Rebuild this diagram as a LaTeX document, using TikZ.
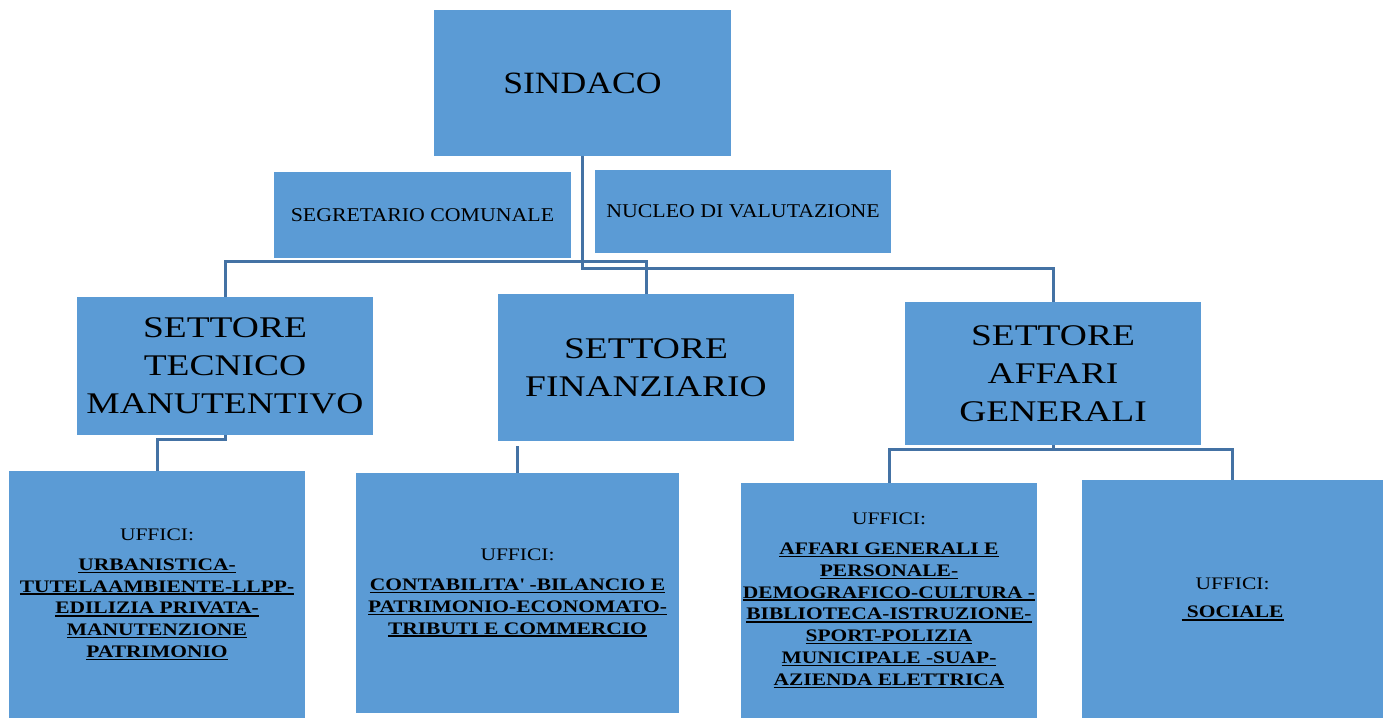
\documentclass[tikz,border=0pt]{standalone}
\usepackage{fontspec}
\setmainfont{Liberation Serif}
\newfontfamily\sindfont[FakeStretch=1.15]{Liberation Serif}
\newfontfamily\setfont[FakeStretch=1.25]{Liberation Serif}
\newfontfamily\smfont[FakeStretch=1.12]{Liberation Serif}
\newfontfamily\uffont[FakeStretch=1.22]{Liberation Serif}
\definecolor{boxblue}{RGB}{91,155,213}
\definecolor{lineblue}{RGB}{68,114,164}
\newcommand{\ulin}[1]{\setbox0=\hbox{#1}\rlap{\rule[-2.6pt]{\wd0}{1.4pt}}\box0}
\tikzset{
  box/.style={rectangle, fill=boxblue, inner sep=0pt, anchor=center, align=center, text=black},
  conn/.style={draw=lineblue, line width=3pt},
  setbox/.style={box, minimum width=296pt, font=\setfont\fontsize{30}{38}\selectfont},
  smbox/.style={box, font=\smfont\fontsize{19.5}{24}\selectfont},
  ufbox/.style={box, font=\uffont\fontsize{17.6}{21.8}\selectfont},
}
\begin{document}
\begin{tikzpicture}[x=1pt,y=1pt]
\useasboundingbox (0,0) rectangle (1383,-718);
\node[box, minimum width=297pt, minimum height=146pt, font=\sindfont\fontsize{31}{38}\selectfont] (sindaco) at (582.5,-83) {SINDACO};
\node[smbox, minimum width=297pt, minimum height=86pt] (seg) at (422.5,-215) {SEGRETARIO COMUNALE};
\node[smbox, minimum width=296pt, minimum height=83pt] (nuc) at (743,-211.5) {NUCLEO DI VALUTAZIONE};
\node[setbox, minimum height=138pt] (tec) at (225,-366) {SETTORE\\TECNICO\\MANUTENTIVO};
\node[setbox, minimum height=147pt] (fin) at (646,-367.5) {SETTORE\\FINANZIARIO};
\node[setbox, minimum height=143pt] (aff) at (1053,-373.5) {SETTORE\\AFFARI\\GENERALI};
\node[ufbox, minimum width=296pt, minimum height=247pt] (u1) at (157,-594.5)
  {UFFICI:\\[8pt]\ulin{\bfseries URBANISTICA-}\\\ulin{\bfseries TUTELAAMBIENTE-LLPP-}\\\ulin{\bfseries EDILIZIA PRIVATA-}\\\ulin{\bfseries MANUTENZIONE}\\\ulin{\bfseries PATRIMONIO}};
\node[ufbox, minimum width=323pt, minimum height=240pt] (u2) at (517.5,-593)
  {UFFICI:\\[8pt]\ulin{\bfseries CONTABILITA\textquotesingle\ -BILANCIO E}\\\ulin{\bfseries PATRIMONIO-ECONOMATO-}\\\ulin{\bfseries TRIBUTI E COMMERCIO}};
\node[ufbox, minimum width=296pt, minimum height=235pt] (u3) at (889,-600.5)
  {UFFICI:\\[8pt]\ulin{\bfseries AFFARI GENERALI E}\\\ulin{\bfseries PERSONALE-}\\\ulin{\bfseries DEMOGRAFICO-CULTURA -}\\\ulin{\bfseries BIBLIOTECA-ISTRUZIONE-}\\\ulin{\bfseries SPORT-POLIZIA}\\\ulin{\bfseries MUNICIPALE -SUAP-}\\\ulin{\bfseries AZIENDA ELETTRICA}};
\node[ufbox, minimum width=301pt, minimum height=238pt] (u4) at (1232.5,-599)
  {UFFICI:\\[7pt]\ulin{\bfseries\ SOCIALE}};
\draw[conn] (sindaco.south) -- ++(0,-112) -| (aff.north);
\draw[conn] (tec.north) -- ++(0,35) -| (fin.north);
\draw[conn] (tec.south) -- ++(0,-4) -| (u1.north);
\draw[conn] (u2.north) -- ++(0,27);
\draw[conn] (aff.south) -- ++(0,-5);
\draw[conn] (u3.north) -- ++(0,33) -| (u4.north);
\end{tikzpicture}
\end{document}
